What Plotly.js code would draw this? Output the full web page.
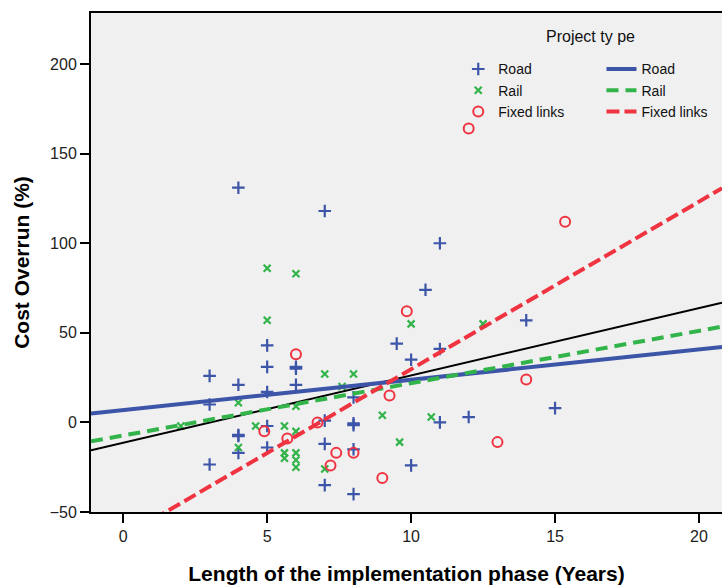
<!DOCTYPE html>
<html>
<head>
<meta charset="utf-8">
<script src="https://cdn.plot.ly/plotly-3.0.1.min.js"></script>
<style>html,body{margin:0;padding:0;background:#fff;}#chart{width:722px;height:586px;}</style>
</head>
<body>
<div id="chart"></div>
<script>
// ---- data ----
var roadX = [3, 3, 3, 4, 4, 4, 4, 4, 5, 5, 5, 5, 5, 6, 6, 6, 7, 7, 7, 7, 8, 8, 8, 8, 8, 9.5, 10, 10, 10.5, 11, 11, 11, 12, 14, 15];
var roadY = [26, 10, -23.5, 131, 21, -7, -7.6, -17, 43, 31, 17, -2, -14, 31, 30, 21, 118, 1, -12, -35, 14, -0.5, -1.5, -15, -40, 44, 35, -24, 74, 100, 41, 0, 3, 57, 8];

var railX = [2, 4, 4, 4.6, 5, 5, 5.6, 5.6, 5.6, 6, 6, 6, 6, 6, 6, 7, 7, 7.6, 8, 9, 9.6, 10, 10.7, 12.5];
var railY = [-2, 11, -14, -2, 86, 57, -2, -17, -20, 83, 9, -5, -17, -21, -25, 27, -26, 20, 27, 4, -11, 55, 3, 55];

var fixedX = [4.9, 5.7, 6, 6.75, 7.2, 7.4, 8, 9, 9.25, 9.85, 12, 13, 14, 15.35];
var fixedY = [-5, -9, 38, 0, -24, -17, -17, -31, 15, 62, 164, -11, 24, 112];

// fitted regression lines: [intercept, slope]
var fitNames = ["Road", "Rail", "Fixed links", "Total"];
var fitIntercept = [6.9, -7.3, -63.8, -11.4];
var fitSlope = [1.69, 2.92, 9.35, 3.76];

var xRange = [-1.12, 20.8];
var yRange = [-50, 228.5];
var xTicks = [0, 5, 10, 15, 20];
var yTicks = [-50, 0, 50, 100, 150, 200];

// ---- styles ----
var cBlue = "#3d55a8", cGreen = "#33b44a", cRed = "#f03340";

function lineY(i, x) { return fitIntercept[i] + fitSlope[i] * x; }
function fitTrace(i, color, width, dash, legend, show) {
  return {
    x: xRange.slice(), y: xRange.map(function (x) { return lineY(i, x); }),
    mode: "lines", name: fitNames[i], legend: legend, showlegend: show,
    line: {color: color, width: width, dash: dash}, hoverinfo: "skip"
  };
}

var traces = [
  {x: roadX, y: roadY, mode: "markers", name: "Road", legend: "legend",
   marker: {symbol: "cross-thin-open", size: 9, line: {color: cBlue, width: 2.2}, color: cBlue}},
  {x: railX, y: railY, mode: "markers", name: "Rail", legend: "legend",
   marker: {symbol: "x-thin-open", size: 7, line: {color: cGreen, width: 2.2}, color: cGreen}},
  {x: fixedX, y: fixedY, mode: "markers", name: "Fixed links", legend: "legend",
   marker: {symbol: "circle-open", size: 10, line: {color: cRed, width: 2}, color: cRed}},
  fitTrace(3, "#000000", 2, "solid", "legend2", false),
  fitTrace(0, cBlue, 4, "solid", "legend2", true),
  fitTrace(1, cGreen, 4, "12px,7px", "legend2", true),
  fitTrace(2, cRed, 4, "13px,5px", "legend2", true)
];

var fam = "Liberation Sans, Arial, sans-serif";
var layout = {
  width: 722, height: 586,
  margin: {l: 91, r: 0, t: 13, b: 74},
  paper_bgcolor: "#ffffff", plot_bgcolor: "#f0f0f0",
  font: {family: fam, size: 14, color: "#222"},
  showlegend: true,
  xaxis: {
    range: xRange, tickvals: xTicks, ticks: "outside", ticklen: 9, tickwidth: 2, tickcolor: "#000",
    showline: true, linecolor: "#000", linewidth: 2, mirror: true, showgrid: false, zeroline: false,
    tickfont: {size: 16, color: "#222"},
    title: {text: "Length of the implementation phase (Years)", standoff: 22,
            font: {family: fam, size: 21, color: "#000", weight: "bold"}}
  },
  yaxis: {
    range: yRange, tickvals: yTicks, ticks: "outside", ticklen: 9, tickwidth: 2, tickcolor: "#000",
    showline: true, linecolor: "#000", linewidth: 2, mirror: false, showgrid: false, zeroline: false,
    tickfont: {size: 16, color: "#222"},
    title: {text: "Cost Overrun (%)", standoff: 14,
            font: {family: fam, size: 21, color: "#000", weight: "bold"}}
  },
  legend: {x: 0.582, y: 0.919, xanchor: "left", yanchor: "top", bgcolor: "rgba(0,0,0,0)",
           font: {size: 14, color: "#111"}, tracegroupgap: 0, itemclick: false},
  legend2: {x: 0.809, y: 0.919, xanchor: "left", yanchor: "top", bgcolor: "rgba(0,0,0,0)",
           font: {size: 14, color: "#111"}, tracegroupgap: 0, itemclick: false},
  annotations: [{text: "Project ty pe", xref: "paper", yref: "paper", x: 0.791, y: 0.952,
                 xanchor: "center", yanchor: "middle", showarrow: false,
                 font: {size: 16, color: "#111"}}],
  hovermode: false
};

Plotly.newPlot("chart", traces, layout, {displayModeBar: false, staticPlot: true});
</script>
</body>
</html>
